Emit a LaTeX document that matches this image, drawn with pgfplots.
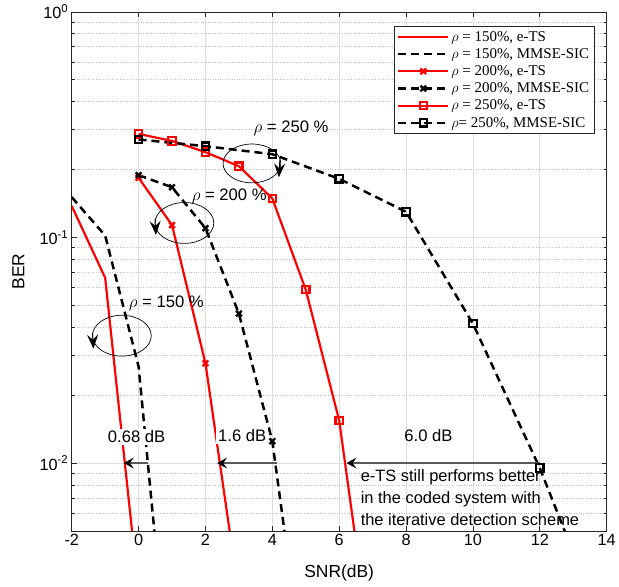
\documentclass[border=0pt]{standalone}
\usepackage{fontspec}
\setmainfont{Liberation Sans}
\newfontfamily\legfont{Liberation Serif}
\usepackage{pgfplots}
\pgfplotsset{compat=1.18}
\usetikzlibrary{arrows.meta}
\definecolor{axgray}{RGB}{38,38,38}
\definecolor{gridgray}{RGB}{222,222,222}
\definecolor{arrgray}{RGB}{90,90,90}
\begin{document}
\begin{tikzpicture}
\begin{axis}[
 name=ax,
 scale only axis, width=537pt, height=521pt,
 ymode=log, xmin=-2, xmax=14, ymin=5e-3, ymax=1,
 xtick={-2,0,2,4,6,8,10,12,14},
 xticklabels={-2,0,2,4,6,8,10,12,14},
 ytick={0.01,0.1,1},
 yticklabels={10\textsuperscript{-2},10\textsuperscript{-1},10\textsuperscript{0}},
 minor ytick={0.005,0.006,0.007,0.008,0.009,0.02,0.03,0.04,0.05,0.06,0.07,0.08,0.09,0.2,0.3,0.4,0.5,0.6,0.7,0.8,0.9},
 tick label style={font=\fontsize{16.3}{19}\selectfont},
 grid=both,
 major grid style={gridgray, line width=0.8pt},
 minor grid style={gridgray!70!gray, dotted, line width=0.8pt},
 axis line style={axgray, line width=0.8pt},
 tick style={axgray, line width=0.8pt},
 major tick length=5pt, minor tick length=3pt,
 tick align=inside,
 xlabel={SNR(dB)}, ylabel={BER},
 label style={font=\fontsize{17.5}{20}\selectfont},
 xlabel style={at={(axis description cs:0.5,-0.081)}, anchor=center},
 ylabel style={at={(axis description cs:-0.0996,0.5)}, anchor=center},
 legend style={at={(0.977,0.973)}, anchor=north east, draw=axgray, fill=white,
   font=\legfont\fontsize{15}{17}\selectfont, row sep=1.8pt, inner sep=3pt,
   cells={anchor=west}},
 legend image code/.code={\draw[mark indices={2}] plot coordinates {(0pt,0pt)(25pt,0pt)(50pt,0pt)};},
]
\addplot[red, line width=2.2pt, legend image post style={line width=2.2pt}] coordinates {(-2,0.138)(-1,0.0663)(0,0.00267)};
\addlegendentry{$\rho$ = 150\%, e-TS}
\addplot[black, line width=2.5pt, dash pattern=on 8pt off 5pt, legend image post style={line width=2.5pt}] coordinates {(-2,0.151)(-1,0.102)(0,0.0268)(1,0.00076)};
\addlegendentry{$\rho$ = 150\%, MMSE-SIC}
\addplot[red, line width=2.2pt, mark=x, mark size=4pt, mark options={solid, line width=2.4pt}, mark indices={1,2,3}, legend image post style={line width=2.2pt}] coordinates {(0,0.184)(1,0.1135)(2,0.0277)(3,0.0026)};
\addlegendentry{$\rho$ = 200\%, e-TS}
\addplot[black, line width=2.5pt, dash pattern=on 8pt off 5pt, mark=x, mark size=4pt, mark options={solid, line width=2.4pt}, mark indices={1,2,3,4,5}, legend image post style={line width=2.5pt}] coordinates {(0,0.189)(1,0.167)(2,0.110)(3,0.046)(4,0.0125)(5,0.001)};
\addlegendentry{$\rho$ = 200\%, MMSE-SIC}
\addplot[red, line width=2.2pt, mark=square, mark size=3.7pt, mark options={solid, line width=2.2pt}, mark indices={1,2,3,4,5,6,7}, legend image post style={line width=2.2pt}] coordinates {(0,0.288)(1,0.268)(2,0.239)(3,0.207)(4,0.149)(5,0.0587)(6,0.01545)(7,0.0013)};
\addlegendentry{$\rho$ = 250\%, e-TS}
\addplot[black, line width=2.5pt, dash pattern=on 8pt off 5pt, mark=square, mark size=3.7pt, mark options={solid, line width=2.2pt}, mark indices={1,2,3,4,5,6,7}, legend image post style={line width=2.5pt}] coordinates {(0,0.272)(2,0.254)(4,0.234)(6,0.182)(8,0.130)(10,0.0415)(12,0.0095)(14,0.0017)};
\addlegendentry{$\rho$= 250\%, MMSE-SIC}

% ellipses
\draw[black, line width=0.7pt] (axis cs:3.39,0.213) ellipse [x radius=29pt, y radius=19.5pt];
\draw[black, line width=0.7pt] (axis cs:1.37,0.116) ellipse [x radius=29.5pt, y radius=20.5pt];
\draw[black, line width=0.7pt] (axis cs:-0.50,0.0367) ellipse [x radius=29.5pt, y radius=20.5pt];
\draw[black, line width=0.8pt, -{Stealth[length=14pt,width=11pt,inset=5pt]}] (axis cs:3.39,0.213) ++(28pt,4pt) -- ++(-1pt,-18pt);
\draw[black, line width=0.8pt, -{Stealth[length=14pt,width=11pt,inset=5pt]}] (axis cs:1.37,0.116) ++(-29.5pt,4pt) -- ++(1pt,-16pt);
\draw[black, line width=0.8pt, -{Stealth[length=14pt,width=11pt,inset=5pt]}] (axis cs:-0.50,0.0367) ++(-29.5pt,3pt) -- ++(1pt,-16pt);

\node[font=\fontsize{16.7}{19}\selectfont] at (axis cs:4.56,0.304) {$\rho$ = 250 \%};
\node[font=\fontsize{16.7}{19}\selectfont] at (axis cs:2.71,0.152) {$\rho$ = 200 \%};
\node[font=\fontsize{16.7}{19}\selectfont] at (axis cs:0.83,0.0509) {$\rho$ = 150 \%};

% gap arrows
\draw[arrgray, line width=1.2pt, -{Stealth[length=10pt,width=11pt,inset=4pt,color=black]}] (axis cs:0.28,0.01) -- (axis cs:-0.44,0.01);
\draw[arrgray, line width=1.2pt, -{Stealth[length=10pt,width=11pt,inset=4pt,color=black]}] (axis cs:4.14,0.01) -- (axis cs:2.35,0.01);
\draw[arrgray, line width=1.2pt, -{Stealth[length=10pt,width=11pt,inset=4pt,color=black]}] (axis cs:12.0,0.01) -- (axis cs:6.22,0.01);

\node[fill=white, inner sep=2pt, font=\fontsize{16.7}{19}\selectfont] at (axis cs:-0.06,0.0131) {0.68 dB};
\node[fill=white, inner sep=2pt, font=\fontsize{16.7}{19}\selectfont] at (axis cs:3.1,0.0132) {1.6 dB};
\node[inner sep=2pt, font=\fontsize{16.7}{19}\selectfont] at (axis cs:8.67,0.0133) {6.0 dB};
\node[anchor=west, align=left, inner sep=0pt, font=\fontsize{16.5}{22}\selectfont] at (axis cs:6.64,0.00701) {e-TS still performs better\\in the coded system with\\the iterative detection scheme};
\end{axis}
\path (ax.south west) ++(-72pt,-56pt);
\path (ax.north east) ++(10pt,12pt);
\end{tikzpicture}
\end{document}
